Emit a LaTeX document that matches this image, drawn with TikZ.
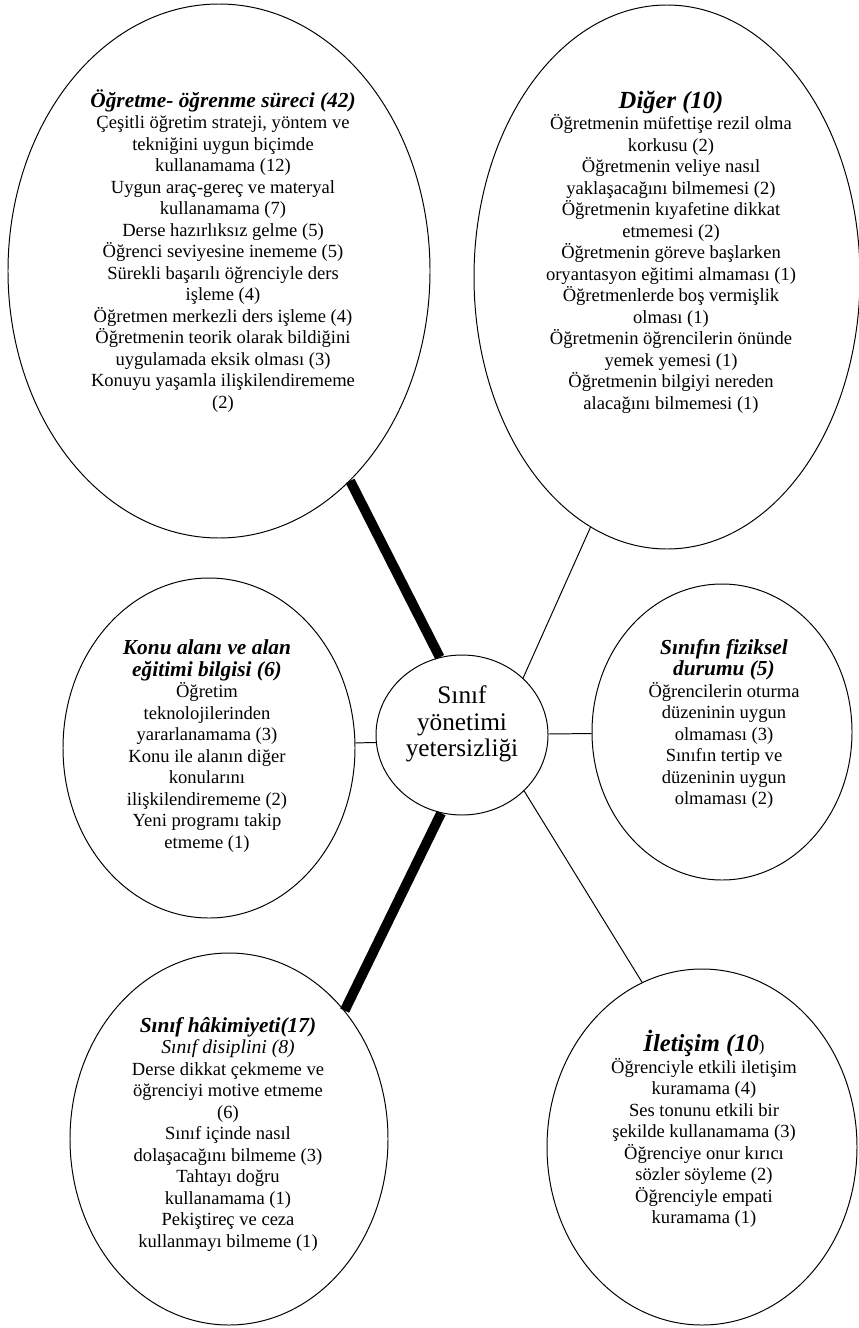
\documentclass[tikz,border=0pt]{standalone}
\usepackage{fontspec}
\setmainfont{Liberation Serif}
\usepackage{tikz}
\usetikzlibrary{shapes.geometric}
\newcommand{\thinline}{0.7pt}
\newcommand{\thickline}{7pt}
\newcommand{\bodyfont}{\fontsize{13.2}{15.3}\selectfont}
\newcommand{\headfont}{\fontsize{15.2}{15.3}\selectfont\bfseries\itshape}
\newcommand{\bigheadfont}{\fontsize{17.5}{15.3}\selectfont\bfseries\itshape}
\newcommand{\subfont}{\fontsize{14}{15.3}\selectfont\itshape}
\tikzset{
  bubble/.style={draw, ellipse, line width=\thinline, inner sep=0pt},
  txt/.style={align=center, font=\bodyfont, inner sep=0pt}
}

\begin{document}
\begin{tikzpicture}
\useasboundingbox (0,0) rectangle (21.45,-33.2);
%bubbles
\node[bubble, minimum width=4.3cm, minimum height=4.0cm] (0) at (11.55,-18.375) {};
\node[bubble, minimum width=10.55cm, minimum height=13.35cm] (1) at (5.475,-6.775) {};
\node[bubble, minimum width=9.65cm, minimum height=13.6cm] (2) at (16.675,-6.925) {};
\node[bubble, minimum width=7.3cm, minimum height=8.5cm] (3) at (5.225,-18.7) {};
\node[bubble, minimum width=6.5cm, minimum height=7.4cm] (4) at (18.05,-18.3) {};
\node[bubble, minimum width=7.95cm, minimum height=9.3cm] (5) at (5.725,-28.475) {};
\node[bubble, minimum width=7.75cm, minimum height=8.9cm] (6) at (17.55,-28.675) {};
%texts
\node[txt, font=\fontsize{18}{18.8}\selectfont] (0t) at (11.55,-18.1) {Sınıf\\yönetimi\\yetersizliği};
\node[txt] (1t) at (5.575,-6.275) {{\headfont Öğretme- öğrenme süreci (42)}\\
Çeşitli öğretim strateji, yöntem ve\\
tekniğini uygun biçimde\\
kullanamama (12)\\
Uygun araç-gereç ve materyal\\
kullanamama (7)\\
Derse hazırlıksız gelme (5)\\
Öğrenci seviyesine inememe (5)\\
Sürekli başarılı öğrenciyle ders\\
işleme (4)\\
Öğretmen merkezli ders işleme (4)\\
Öğretmenin teorik olarak bildiğini\\
uygulamada eksik olması (3)\\
Konuyu yaşamla ilişkilendirememe\\
(2)};
\node[txt] (2t) at (16.775,-6.3) {{\bigheadfont Diğer (10)}\\
Öğretmenin müfettişe rezil olma\\
korkusu (2)\\
Öğretmenin veliye nasıl\\
yaklaşacağını bilmemesi (2)\\
Öğretmenin kıyafetine dikkat\\
etmemesi (2)\\
Öğretmenin göreve başlarken\\
oryantasyon eğitimi almaması (1)\\
Öğretmenlerde boş vermişlik\\
olması (1)\\
Öğretmenin öğrencilerin önünde\\
yemek yemesi (1)\\
Öğretmenin bilgiyi nereden\\
alacağını bilmemesi (1)};
\node[txt] (3t) at (5.175,-18.65) {{\headfont Konu alanı ve alan}\\
{\headfont eğitimi bilgisi (6)}\\
Öğretim\\
teknolojilerinden\\
yararlanamama (3)\\
Konu ile alanın diğer\\
konularını\\
ilişkilendirememe (2)\\
Yeni programı takip\\
etmeme (1)};
\node[txt] (4t) at (18.1,-18.1) {{\headfont Sınıfın fiziksel}\\
{\headfont durumu (5)}\\
Öğrencilerin oturma\\
düzeninin uygun\\
olmaması (3)\\
Sınıfın tertip ve\\
düzeninin uygun\\
olmaması (2)};
\node[txt] (5t) at (5.7,-28.35) {{\headfont Sınıf hâkimiyeti(17)}\\
{\subfont Sınıf disiplini (8)}\\
Derse dikkat çekmeme ve\\
öğrenciyi motive etmeme\\
(6)\\
Sınıf içinde nasıl\\
dolaşacağını bilmeme (3)\\
Tahtayı doğru\\
kullanamama (1)\\
Pekiştireç ve ceza\\
kullanmayı bilmeme (1)};
\node[txt] (6t) at (17.6,-28.225) {{\bigheadfont İletişim (10}{\fontsize{12}{15.3}\selectfont)}\\
Öğrenciyle etkili iletişim\\
kuramama (4)\\
Ses tonunu etkili bir\\
şekilde kullanamama (3)\\
Öğrenciye onur kırıcı\\
sözler söyleme (2)\\
Öğrenciyle empati\\
kuramama (1)};
%links
\draw[line width=\thickline] (1.-58) -- (0.106);
\draw[line width=\thinline] (2.253) -- (0.43);
\draw[line width=\thinline] (3.2) -- (0.185);
\draw[line width=\thinline] (0) -- (4);
\draw[line width=\thickline] (0.255) -- (5.48);
\draw[line width=\thinline] (0.-42) -- (6.110);
\end{tikzpicture}
\end{document}
